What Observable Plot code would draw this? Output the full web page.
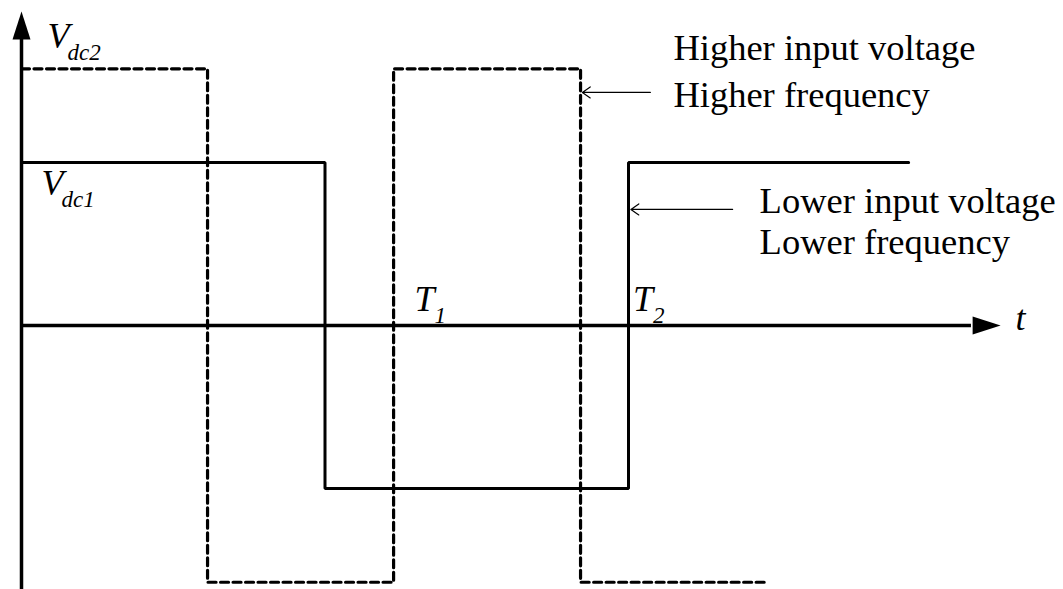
<!DOCTYPE html>
<html>
<head>
<meta charset="utf-8">
<script src="https://cdn.jsdelivr.net/npm/d3@7"></script>
<script src="https://cdn.jsdelivr.net/npm/@observablehq/plot@0.6"></script>
<style>
  html, body { margin: 0; padding: 0; background: #fff; }
  #chart svg { display: block; }
</style>
</head>
<body>
<div id="chart"></div>
<script>
// ---- data (time units: T2 = 2, voltage units: Vdc1 = 1) ----
const solidT  = [0, 1, 1, 2, 2, 2.923];
const solidV  = [1, 1, -1, -1, 1, 1];
const dashedT = [0, 0.613, 0.613, 1.226, 1.226, 1.842, 1.842, 2.451];
const dashedV = [1.575, 1.575, -1.575, -1.575, 1.575, 1.575, -1.575, -1.575];

// axis extents
const tAxisEnd = 3.13, tArrowMid = 3.18;
const vAxisBottom = -1.62, vAxisEnd = 1.77, vArrowMid = 1.84;

// symbol labels: main letter, subscript, position
const symMain = ["V", "V", "T", "T", "t"];
const symSub  = ["dc2", "dc1", "1", "2", ""];
const symT    = [0.0857, 0.066, 1.295, 2.015, 3.275];
const symV    = [1.70, 0.798, 0.092, 0.092, -0.025];

// annotation texts
const noteText = ["Higher input voltage", "Higher frequency", "Lower input voltage", "Lower frequency"];
const noteT    = [2.148, 2.148, 2.432, 2.432];
const noteV    = [1.626, 1.34, 0.69, 0.44];

// annotation arrows (from text toward waveform edge)
const arrT1 = [2.072, 2.343];
const arrT2 = [1.848, 2.008];
const arrV  = [1.43, 0.712];

// ---- build tables ----
const solid = solidT.map((t, i) => ({t, v: solidV[i]}));
const dashed = dashedT.map((t, i) => ({t, v: dashedV[i]}));
const syms = symMain.map((m, i) => ({m, s: symSub[i], t: symT[i], v: symV[i]}));
const notes = noteText.map((text, i) => ({text, t: noteT[i], v: noteV[i]}));
const arrows = arrT1.map((t1, i) => ({t1, t2: arrT2[i], v: arrV[i]}));

const arrowUp = { draw(ctx) { ctx.moveTo(0, -14); ctx.lineTo(9, 14); ctx.lineTo(-9, 14); ctx.closePath(); } };
const arrowRight = { draw(ctx) { ctx.moveTo(14, 0); ctx.lineTo(-14, 9); ctx.lineTo(-14, -9); ctx.closePath(); } };

const font = "'Liberation Serif', 'Times New Roman', serif";

const chart = Plot.plot({
  width: 1063,
  height: 589,
  margin: 0,
  style: { background: "#fff", fontFamily: font },
  x: { domain: [-21 / 303.5, 1042 / 303.5], axis: null },
  y: { domain: [-264 / 163, 325 / 163], axis: null },
  marks: [
    // axes
    Plot.ruleX([0], { y1: vAxisBottom, y2: vAxisEnd, stroke: "black", strokeWidth: 3.5 }),
    Plot.ruleY([0], { x1: 0, x2: tAxisEnd, stroke: "black", strokeWidth: 3.5 }),
    Plot.dot([{t: 0, v: vArrowMid}], { x: "t", y: "v", symbol: arrowUp, fill: "black", stroke: null }),
    Plot.dot([{t: tArrowMid, v: 0}], { x: "t", y: "v", symbol: arrowRight, fill: "black", stroke: null }),
    // waveforms
    Plot.line(dashed, { x: "t", y: "v", stroke: "black", strokeWidth: 3.2, strokeDasharray: "8,4.5", strokeLinejoin: "miter", curve: "linear" }),
    Plot.line(solid, { x: "t", y: "v", stroke: "black", strokeWidth: 3, strokeLinejoin: "miter", curve: "linear" }),
    // annotation arrows
    Plot.arrow(arrows, { x1: "t1", x2: "t2", y1: "v", y2: "v", stroke: "black", strokeWidth: 1.2, headLength: 12, headAngle: 70 }),
    // annotation text
    Plot.text(notes, { x: "t", y: "v", text: "text", textAnchor: "start", lineAnchor: "bottom", fontSize: 36.5, fill: "black", fontFamily: font }),
    // symbol labels
    Plot.text(syms, { x: "t", y: "v", text: "m", textAnchor: "start", lineAnchor: "bottom", fontSize: 36, fontStyle: "italic", fill: "black", fontFamily: font }),
    Plot.text(syms, { x: "t", y: "v", text: "s", textAnchor: "start", lineAnchor: "bottom", fontSize: 23, fontStyle: "italic", fill: "black", fontFamily: font, dx: 20, dy: 12 })
  ]
});
document.getElementById("chart").appendChild(chart);
</script>
</body>
</html>
